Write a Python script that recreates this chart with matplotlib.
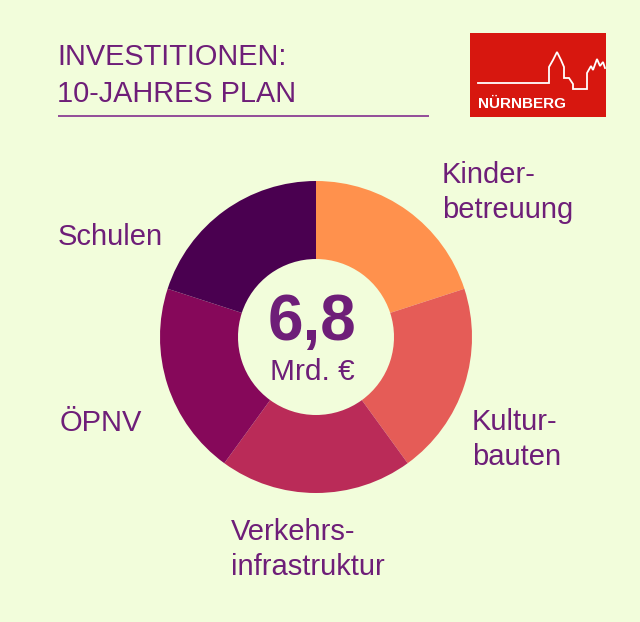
import matplotlib
matplotlib.use("Agg")
import matplotlib.pyplot as plt
from matplotlib.patches import Rectangle

# Data
categories = ["Kinder-\nbetreuung", "Kultur-\nbauten", "Verkehrs-\ninfrastruktur", "ÖPNV", "Schulen"]
values = [20, 20, 20, 20, 20]
colors = ["#FF914D", "#E55C57", "#BA2B58", "#86085A", "#4A0050"]
total_label = "6,8"
unit_label = "Mrd. €"
title_lines = ["INVESTITIONEN:", "10-JAHRES PLAN"]

BG = "#F2FDDB"
PURPLE = "#6E1E78"
H = 622

plt.rcParams["font.family"] = ["Liberation Sans", "DejaVu Sans"]

fig = plt.figure(figsize=(6.4, 6.22), dpi=100, facecolor=BG)
ax = fig.add_axes([0, 0, 1, 1])
ax.set_facecolor(BG)


def Y(py):
    return H - py


# donut
ax.pie(values, colors=colors, startangle=90, counterclock=False,
       radius=156, center=(316, Y(337)),
       wedgeprops=dict(width=78, linewidth=0))

# centre text
ax.text(312, Y(340), total_label, ha="center", va="baseline",
        fontsize=46, fontweight="bold", color=PURPLE)
ax.text(312, Y(380), unit_label, ha="center", va="baseline",
        fontsize=21.5, color=PURPLE)

# segment labels (x, baseline of last line)
label_pos = [(442, 218), (472, 465), (231, 575), (60, 431), (58, 245)]
for lab, (x, y) in zip(categories, label_pos):
    ax.text(x, Y(y), lab, ha="left", va="baseline", fontsize=21,
            color=PURPLE, linespacing=1.32)

# title
ax.text(57, Y(65), title_lines[0], ha="left", va="baseline", fontsize=20.8, color=PURPLE)
ax.text(57, Y(102), title_lines[1], ha="left", va="baseline", fontsize=20.8, color=PURPLE)
ax.plot([58, 429], [Y(116), Y(116)], color="#8B3F93", lw=1.3, solid_capstyle="butt")

# logo
ax.add_patch(Rectangle((470, Y(117)), 136, 84, facecolor="#D7170F", edgecolor="none"))
sky = [(478, 83), (549, 83), (549, 67), (553, 60), (557, 52), (561, 60), (564, 67),
       (564, 78), (569, 78), (573, 84), (573, 89), (587, 89), (587, 73), (591, 66),
       (593, 70), (597, 59), (600, 66), (603, 62), (605, 68)]
ax.plot([p[0] for p in sky], [Y(p[1]) for p in sky], color="white", lw=1.3,
        solid_joinstyle="miter")
ax.text(478, Y(108), "NÜRNBERG", ha="left", va="baseline", fontsize=11,
        color="white", fontweight="bold")

ax.set_xlim(0, 640)
ax.set_ylim(0, H)
ax.set_aspect("equal")
ax.axis("off")

fig.savefig("out.png", dpi=100, facecolor=BG)
